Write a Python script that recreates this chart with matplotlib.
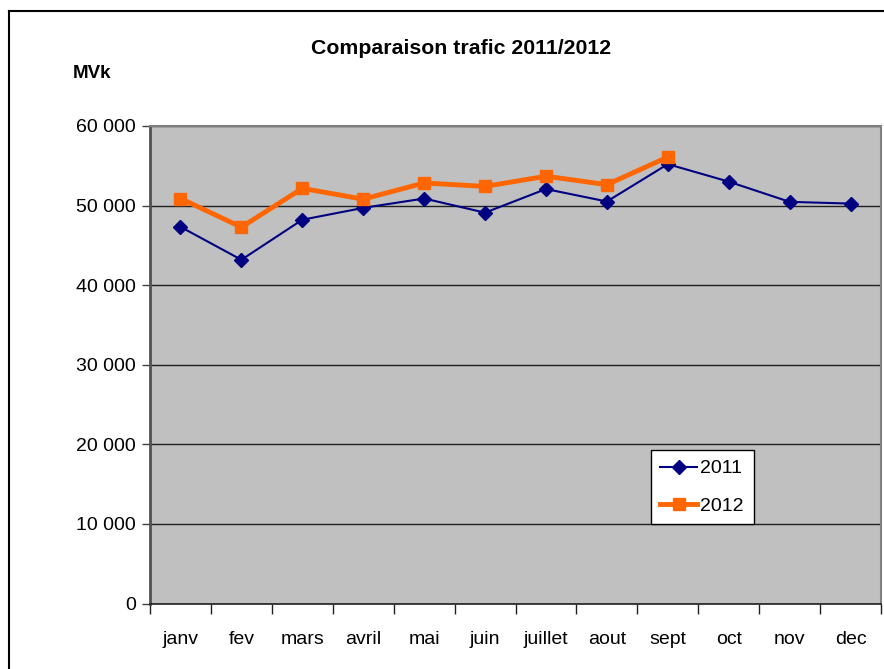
import matplotlib.pyplot as plt
from matplotlib.lines import Line2D

plt.rcParams['font.family'] = ['Liberation Sans', 'DejaVu Sans']

months = ['janv', 'fev', 'mars', 'avril', 'mai', 'juin', 'juillet', 'aout',
          'sept', 'oct', 'nov', 'dec']
traffic_2011 = [47330, 43190, 48220, 49710, 50890, 49110, 52080, 50510,
                55210, 53010, 50470, 50250]
traffic_2012 = [50890, 47290, 52160, 50810, 52840, 52410, 53690, 52630, 56100]
y_ticks = [0, 10000, 20000, 30000, 40000, 50000, 60000]

fig = plt.figure(figsize=(8.84, 6.69), dpi=100)
ax = fig.add_axes([150 / 884, 1 - 603.5 / 669, 731 / 884, 477.5 / 669])
ax.set_facecolor('#C0C0C0')

x = list(range(len(months)))
ax.plot(x, traffic_2011, color='#000080', lw=1.5, marker='D', ms=7,
        label='2011', zorder=3)
ax.plot(x[:len(traffic_2012)], traffic_2012, color='#FF6600', lw=3.5,
        marker='s', ms=8, label='2012', zorder=4)

ax.set_xlim(-0.5, len(months) - 0.5)
ax.set_ylim(0, 60000)

# y axis
ax.set_yticks(y_ticks)
ax.set_yticklabels([f'{v:,}'.replace(',', ' ') for v in y_ticks])
ax.yaxis.grid(True, color='#202020', lw=1)
ax.set_axisbelow(True)
ax.tick_params(axis='y', direction='out', length=6, width=1,
               color='#404040', labelsize=14, pad=4)

# x axis: ticks between categories, labels centred
ax.set_xticks([i - 0.5 for i in range(len(months) + 1)])
ax.set_xticklabels([])
ax.set_xticks(x, minor=True)
ax.set_xticklabels(months, minor=True)
ax.tick_params(axis='x', which='major', direction='out', length=7,
               width=1, color='#202020')
ax.tick_params(axis='x', which='minor', length=0, labelsize=14, pad=20)

ax.spines['left'].set_color('#505050')
ax.spines['left'].set_linewidth(2)
ax.spines['bottom'].set_color('#202020')
ax.spines['bottom'].set_linewidth(1.2)
ax.spines['top'].set_color('#808080')
ax.spines['top'].set_linewidth(1.5)
ax.spines['right'].set_color('#808080')
ax.spines['right'].set_linewidth(1.5)

leg = ax.legend(loc='lower left', bbox_to_anchor=(0.685, 0.166),
                borderaxespad=0, fancybox=False, framealpha=1,
                fontsize=14, handlelength=1.9, handletextpad=0.15,
                labelspacing=1.0, borderpad=0.5)
leg.get_frame().set_edgecolor('black')
leg.get_frame().set_linewidth(1)

fig.text(461 / 884, 1 - 48 / 669, 'Comparaison trafic 2011/2012',
         ha='center', va='center', fontsize=15.3, fontweight='bold')
fig.text(73 / 884, 1 - 74 / 669, 'MVk', ha='left', va='center',
         fontsize=13.5, fontweight='bold')

# outer chart border (left and top visible)
fig.add_artist(Line2D([8.5 / 884, 8.5 / 884], [0, 1 - 11 / 669],
                      transform=fig.transFigure, color='black', lw=1.5))
fig.add_artist(Line2D([8.5 / 884, 1], [1 - 11 / 669, 1 - 11 / 669],
                      transform=fig.transFigure, color='black', lw=1.5))

fig.savefig('out.png', dpi=100)
